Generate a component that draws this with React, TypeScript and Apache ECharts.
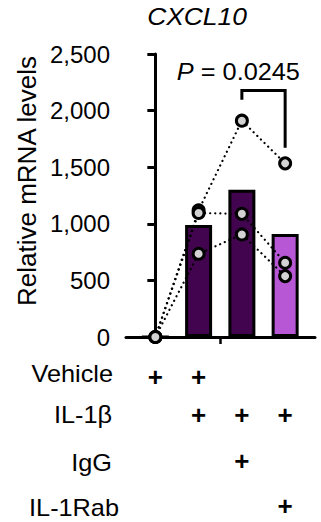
import React, { useEffect, useRef } from "react";
import * as echarts from "echarts";

// ---- data ----
const groups = ["Vehicle", "IL-1β", "IL-1β + IgG", "IL-1β + IL-1Rab"];
const barMeans = [0, 990, 1300, 910];
const donorA = [0, 1120, 1911, 1534];
const donorB = [0, 1095, 1088, 656];
const donorC = [0, 735, 906, 538];
const yTicks = { min: 0, max: 2500, interval: 500 };
const barColors = ["#43044f", "#43044f", "#43044f", "#b757d6"];
const rowLabels = ["Vehicle", "IL-1β", "IgG", "IL-1Rab"];
const treatmentMatrix = [
  [1, 1, 0, 0],
  [0, 1, 1, 1],
  [0, 0, 1, 0],
  [0, 0, 0, 1],
];
const comparison = { from: 2, to: 3, label: "0.0245" };

const FONT = "'Liberation Sans', Arial, sans-serif";

export default function App() {
  const ref = useRef<HTMLDivElement>(null);
  useEffect(() => {
    if (!ref.current) return;
    const chart = echarts.init(ref.current, null, { renderer: "svg" });
    const donors = [donorA, donorB, donorC];
    const pointData: number[][] = [];
    donors.forEach((d) => d.forEach((v, i) => pointData.push([i, v])));
    const option: any = {
      animation: false,
      backgroundColor: "#ffffff",
      grid: { left: 126, top: 54, width: 189, height: 283, containLabel: false },
      xAxis: {
        type: "value",
        min: -0.678,
        max: 3.69,
        axisLine: { show: true, onZero: false, lineStyle: { color: "#000", width: 3 } },
        axisTick: { show: true, customValues: [1.5], length: 7, lineStyle: { color: "#000", width: 2.5 } },
        axisLabel: { show: false },
        splitLine: { show: false },
      },
      yAxis: {
        type: "value",
        min: yTicks.min,
        max: yTicks.max,
        interval: yTicks.interval,
        axisLine: { show: true, lineStyle: { color: "#000", width: 3 } },
        axisTick: { show: true, length: 8, lineStyle: { color: "#000", width: 3 } },
        axisLabel: {
          color: "#000",
          fontFamily: FONT,
          fontSize: 24,
          margin: 16,
          formatter: (v: number) => v.toLocaleString("en-US"),
        },
        splitLine: { show: false },
      },
      series: [
        {
          type: "bar",
          barWidth: 27,
          z: 1,
          data: barMeans.map((v, i) => ({
            value: [i, v],
            itemStyle: { color: barColors[i], borderColor: "#000", borderWidth: 3 },
          })),
        },
        ...donors.map((d) => ({
          type: "line",
          z: 2,
          symbol: "none",
          data: d.map((v, i) => [i, v]),
          lineStyle: { color: "#000", width: 2.2, type: [0.1, 5], cap: "round" },
        })),
        {
          type: "line",
          z: 3,
          symbol: "none",
          data: [
            [comparison.from, 2096],
            [comparison.from, 2177],
            [comparison.to, 2177],
            [comparison.to, 1672],
          ],
          lineStyle: { color: "#000", width: 3, join: "miter", cap: "butt" },
        },
        {
          type: "scatter",
          z: 4,
          symbol: "circle",
          symbolSize: 11,
          data: pointData,
          itemStyle: { color: "#d3d3d3", borderColor: "#000", borderWidth: 3, opacity: 1 },
        },
      ],
    };
    chart.setOption(option);

    const graphics: any[] = [];
    const sx = 1.1;
    graphics.push({
      type: "text",
      x: 197,
      y: 16,
      scaleX: sx,
      style: { text: "CXCL10", font: `italic 24px ${FONT}`, fill: "#000", align: "center", verticalAlign: "middle" },
    });
    graphics.push({
      type: "text",
      x: 27,
      y: 181,
      rotation: Math.PI / 2,
      scaleX: 1.04,
      style: { text: "Relative mRNA levels", font: `25px ${FONT}`, fill: "#000", align: "center", verticalAlign: "middle" },
    });
    const pPos = chart.convertToPixel({ gridIndex: 0 }, [1.92, 2343]);
    graphics.push({
      type: "text",
      x: pPos[0],
      y: pPos[1],
      scaleX: sx,
      style: {
        text: "{i|P} = " + comparison.label,
        font: `23px ${FONT}`,
        fill: "#000",
        align: "center",
        verticalAlign: "middle",
        rich: { i: { fontStyle: "italic", fontSize: 23, fontFamily: FONT, fill: "#000" } },
      },
    });
    const labelRight = [113, 112, 112, 119];
    const labelY = [374, 415, 463, 508];
    const plusY = [377, 415, 461, 506];
    rowLabels.forEach((lab, r) => {
      graphics.push({
        type: "text",
        x: labelRight[r],
        y: labelY[r],
        scaleX: sx,
        style: { text: lab, font: `23px ${FONT}`, fill: "#000", align: "right", verticalAlign: "middle" },
      });
      treatmentMatrix[r].forEach((on, c) => {
        if (!on) return;
        const px = chart.convertToPixel({ xAxisIndex: 0 }, c) as number;
        graphics.push({
          type: "text",
          x: px,
          y: plusY[r],
          style: { text: "+", font: `bold 26px ${FONT}`, fill: "#000", align: "center", verticalAlign: "middle" },
        });
      });
    });
    chart.setOption({ graphic: graphics });
    return () => chart.dispose();
  }, []);
  return (
    <div
      ref={ref}
      style={{ position: "absolute", left: 0, top: 0, width: 321, height: 522, background: "#fff" }}
    />
  );
}
